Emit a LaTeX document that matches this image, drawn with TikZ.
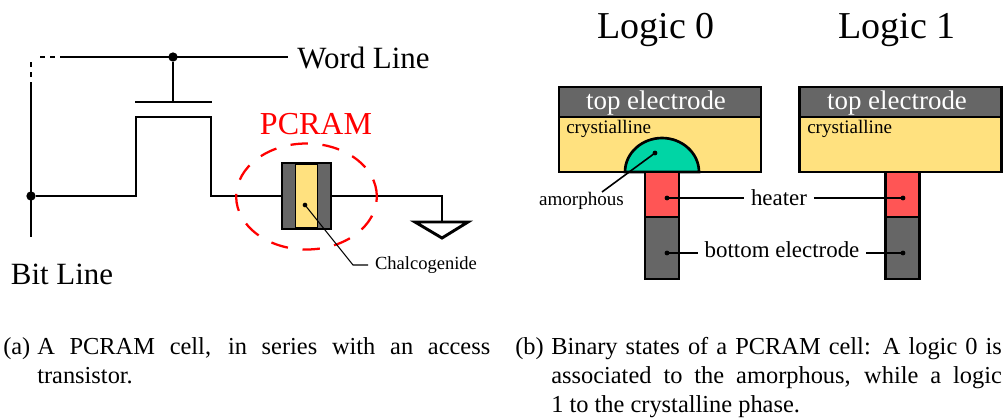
\documentclass[tikz,border=0pt]{standalone}
\usepackage{fontspec}
\usetikzlibrary{shapes.geometric}
\setmainfont{Liberation Serif}
\definecolor{electrode}{HTML}{666666}
\definecolor{chalco}{HTML}{FFE17F}
\definecolor{heatred}{HTML}{FF5555}
\definecolor{amorph}{HTML}{00D5A5}
\tikzset{
	wire/.style={line width=2.2pt},
	leader/.style={line width=1.2pt},
	layer/.style={draw,line width=2.1pt,inner sep=0,outer sep=0},
	dot/.style={circle,fill,inner sep=0,minimum size=#1},
	dot/.default=3.6pt,
	captext/.style={text width=#1,align=justify,anchor=north west,inner sep=0,font=\fontsize{18.3}{21.9}\selectfont}
}
\begin{document}
\begin{tikzpicture}[x=.75pt,y=-.75pt]
	\useasboundingbox (0,0) rectangle (1003,419);
	% left: cell
	\node[dot=7pt] (bitdot) at (31,196) {};
	\node[dot=7pt] (worddot) at (173,57) {};
	\node[font=\fontsize{23.2}{23}\selectfont,inner sep=6pt] (word) at (363.5,58) {Word Line};
	\node[font=\fontsize{23.2}{23}\selectfont,inner sep=0] (bit) at (62,274) {Bit Line};
	\coordinate (bittop) at (31,82);
	\coordinate (bitend) at (31,237);
	\coordinate (wordend) at (60,57);
	\coordinate (gate) at (173,102);
	\coordinate (drainl) at (136,117);
	\coordinate (drainr) at (211,117);
	\coordinate (gnd) at (442,222);
	\draw[wire] (bittop) -- (bitend);
	\draw[wire,dash pattern=on 3.75pt off 3.75pt] (31,77) -- (31,60);
	\draw[wire,dash pattern=on 3.75pt off 3.75pt] (40,57) -- (55,57);
	\draw[wire] (wordend) -- (288,57);
	\draw[wire] (worddot) -- (gate);
	\draw[wire] (135,102) -- (212,102);
	\draw[wire] (bitdot) -| (drainl) -- (drainr) |- (306,196);
	\draw[wire] (306,196) -| (gnd);
	\draw[wire] (415,222) -- (468,222) -- (442,238) -- cycle;
	\node[layer,fill=electrode,minimum width=36.75pt,minimum height=49.5pt] (cell) at (306.5,196) {};
	\node[layer,fill=chalco,line width=1.1pt,minimum width=16.5pt,minimum height=47.5pt] (chal) at (306.5,196) {};
	\node[red,font=\fontsize{24}{24}\selectfont] (pcram) at (316,124) {PCRAM};
	\node[draw=red,ellipse,line width=1.7pt,dash pattern=on 13pt off 11pt,minimum width=105.5pt,minimum height=79.5pt,inner sep=0] (ring) at (306.5,196.5) {};
	\node[dot=3.5pt] (chaldot) at (305,205) {};
	\coordinate (chalbend) at (353,265);
	\node[font=\fontsize{13.9}{14}\selectfont,inner sep=5pt] (challbl) at (426,265) {Chalcogenide};
	\draw[line width=.8pt] (chaldot.center) -- (chalbend) -- (challbl);
	% right: logic 0
	\node[font=\fontsize{28.5}{29}\selectfont] (logica) at (656,30) {Logic 0};
	\node[layer,fill=chalco,minimum width=151.5pt,minimum height=41.25pt] (crysa) at (660,144.5) {};
	\draw[line width=2pt,fill=amorph] (625,172) .. controls (625,153) and (642,138) .. (662,138) .. controls (682,138) and (699,153) .. (699,172) -- cycle;
	\node[layer,fill=heatred,minimum width=25.5pt,minimum height=33.75pt] (heata) at (662,194.5) {};
	\node[layer,fill=electrode,minimum width=25.5pt,minimum height=46.5pt] (bota) at (662,248) {};
	\node[layer,fill=electrode,minimum width=151.5pt,minimum height=22.5pt] (topa) at (660,102) {};
	\node[white,font=\fontsize{20.2}{20}\selectfont,inner sep=0] at (656,103) {top electrode};
	\node[font=\fontsize{14.3}{14}\selectfont,anchor=west,inner sep=0] (crysla) at (566,129) {crystialline};
	% right: logic 1
	\node[font=\fontsize{28.5}{29}\selectfont] (logicb) at (897,30) {Logic 1};
	\node[layer,fill=chalco,minimum width=151pt,minimum height=41.25pt] (crysb) at (900.5,144.5) {};
	\node[layer,fill=heatred,minimum width=25pt,minimum height=33.75pt] (heatb) at (902.5,194.5) {};
	\node[layer,fill=electrode,minimum width=25pt,minimum height=46.5pt] (botb) at (902.5,248) {};
	\node[layer,fill=electrode,minimum width=151pt,minimum height=22.5pt] (topb) at (900.5,102) {};
	\node[white,font=\fontsize{20.2}{20}\selectfont,inner sep=0] at (897,103) {top electrode};
	\node[font=\fontsize{14.3}{14}\selectfont,anchor=west,inner sep=0] (creslb) at (807,129) {crystialline};
	% labels and leaders
	\node[dot] (amdot) at (655,153) {};
	\coordinate (amend) at (602,192);
	\node[font=\fontsize{14.3}{14}\selectfont,inner sep=0] (amlbl) at (581.5,201) {amorphous};
	\draw[leader] (amdot.center) -- (amend);
	\node[dot] (hdota) at (667,198) {};
	\node[dot] (hdotb) at (903,198) {};
	\node[dot] (bdota) at (667,253) {};
	\node[dot] (bdotb) at (903,253) {};
	\node[font=\fontsize{17.2}{17}\selectfont,inner sep=5pt] (hlbl) at (779,198) {heater};
	\node[font=\fontsize{17.2}{17}\selectfont,inner sep=5pt] (blbl) at (782,250) {bottom electrode};
	\draw[leader] (hdota.center) -- (hlbl) -- (hdotb.center);
	\draw[leader] (bdota.center) -- (bdota -| blbl.west);
	\draw[leader] (bdotb.center) -- (bdotb -| blbl.east);
	% captions
	\node[anchor=north west,inner sep=0,font=\fontsize{18.3}{21.9}\selectfont] (capa) at (3,337) {(a)};
	\node[captext=339.75pt] (capatext) at (37,337) {A PCRAM cell, in series with an access\linebreak transistor.};
	\node[anchor=north west,inner sep=0,font=\fontsize{18.3}{21.9}\selectfont] (capb) at (515,337) {(b)};
	\node[captext=338pt] (capbtext) at (551,337) {Binary states of a PCRAM cell: A logic 0 is\linebreak associated to the amorphous, while a logic\linebreak 1 to the crystalline phase.};
\end{tikzpicture}
\end{document}
